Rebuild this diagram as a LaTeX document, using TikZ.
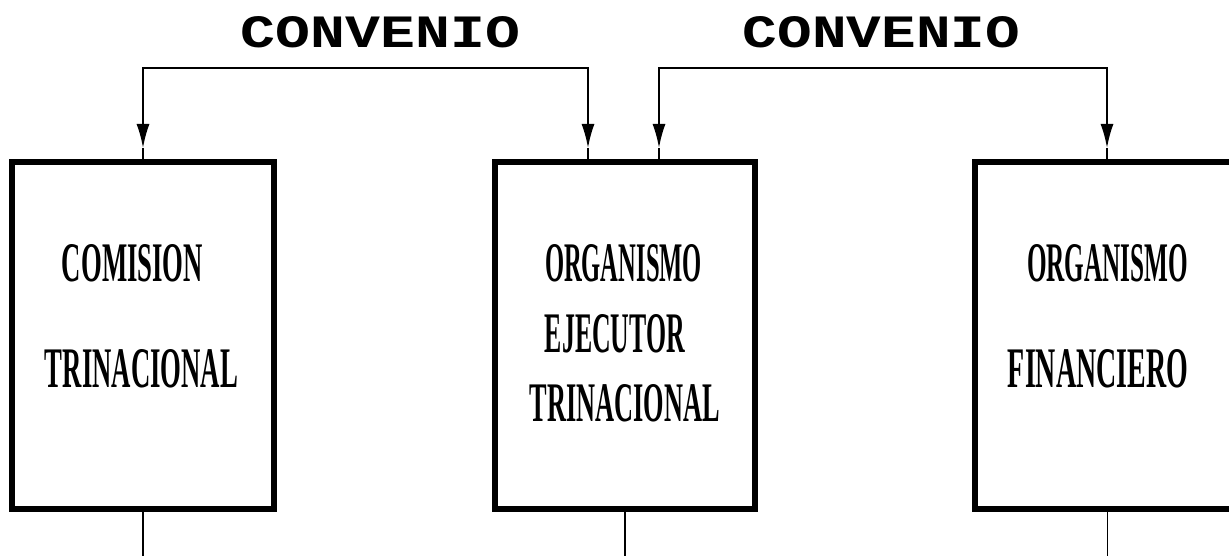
\documentclass[tikz,border=0pt]{standalone}
\usepackage{fontspec}
\setmainfont{Liberation Serif}
\newfontfamily\monofnt{Liberation Mono}
\usetikzlibrary{arrows.meta}
\newcommand{\fitText}[3]{\resizebox{#1pt}{#2pt}{#3}}
\begin{document}
\begin{tikzpicture}[x=1pt,y=-1pt,
  box/.style={draw=black,line width=6pt,fill=none,inner sep=0pt,minimum width=262pt,minimum height=347pt},
  lbl/.style={inner sep=0pt,outer sep=0pt},
  conn/.style={line width=1.8pt},
  tip/.style={-{Latex[length=24pt,width=13pt]}}]
\useasboundingbox (0,0) rectangle (1229,556);
\clip (0,0) rectangle (1229,556);
\fill[white] (0,0) rectangle (1229,556);

% boxes
\node[box] (b1) at (143,335.5) {};
\node[box,minimum width=260pt] (b2) at (625,335.5) {};
\node[box,minimum width=265pt] (b3) at (1107.5,335.5) {};

% titles
\node[lbl] (t1) at (380.5,32.5) {\fitText{279}{31}{\monofnt\bfseries CONVENIO}};
\node[lbl] (t2) at (881.5,32.5) {\fitText{277}{31}{\monofnt\bfseries CONVENIO}};

% box texts
\node[lbl] (l11) at (132.5,263.5) {\fitText{141}{37}{\bfseries COMISION}};
\node[lbl] (l12) at (141.5,369) {\fitText{193}{38}{\bfseries TRINACIONAL}};
\node[lbl] (l21) at (623.5,263.5) {\fitText{157}{37}{\bfseries ORGANISMO}};
\node[lbl] (l22) at (615,334) {\fitText{140}{38}{\bfseries EJECUTOR}};
\node[lbl] (l23) at (625,403.5) {\fitText{190}{37}{\bfseries TRINACIONAL}};
\node[lbl] (l31) at (1107.5,263.5) {\fitText{161}{37}{\bfseries ORGANISMO}};
\node[lbl] (l32) at (1098,369) {\fitText{180}{38}{\bfseries FINANCIERO}};

% connector coordinates
\coordinate (h1a) at (143,68);
\coordinate (h1b) at (588,68);
\coordinate (a1) at (143,148);
\coordinate (a2) at (588,148);
\coordinate (h2a) at (659,68);
\coordinate (h2b) at (1107,68);
\coordinate (a3) at (659,148);
\coordinate (a4) at (1107,148);

\draw[conn,tip] (h1a) -- (h1b) -- (a2);
\draw[conn,tip] (h1b) -- (h1a) -- (a1);
\draw[conn] (a1) -- (b1.north);
\draw[conn] (a2) -- (a2 |- b2.north);

\draw[conn,tip] (h2a) -- (h2b) -- (a4);
\draw[conn,tip] (h2b) -- (h2a) -- (a3);
\draw[conn] (a3) -- (a3 |- b2.north);
\draw[conn] (a4) -- (a4 |- b3.north);

% lines down from boxes
\coordinate (e1) at (143,556);
\coordinate (e2) at (625,556);
\coordinate (e3) at (1107.5,556);
\draw[conn] (b1.south) -- (e1);
\draw[conn] (b2.south) -- (e2);
\draw[conn] (b3.south) -- (e3);
\end{tikzpicture}
\end{document}
